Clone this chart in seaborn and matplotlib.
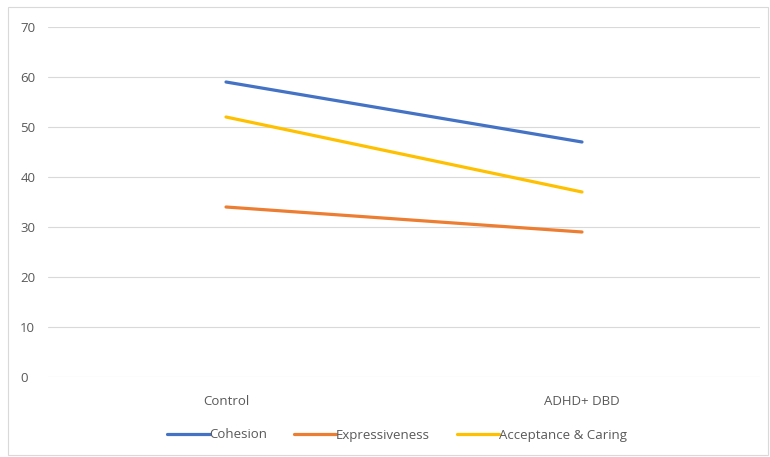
import matplotlib
matplotlib.use("Agg")
import matplotlib.pyplot as plt
import seaborn as sns
import pandas as pd

groups = ["Control", "ADHD+ DBD"]
cohesion = [59, 47]
expressiveness = [34, 29]
acceptance = [52, 37]
series_names = ["Cohesion", "Expressiveness", "Acceptance & Caring"]
colors = ["#4472C4", "#ED7D31", "#FFC000"]
yticks = [0, 10, 20, 30, 40, 50, 60, 70]

rows = []
for name, vals in zip(series_names, [cohesion, expressiveness, acceptance]):
    for i, (g, v) in enumerate(zip(groups, vals)):
        rows.append({"group": g, "pos": i, "value": v, "series": name})
df = pd.DataFrame(rows)

sns.set_style("white")
plt.rcParams['font.family'] = ['Open Sans', 'DejaVu Sans']

fig = plt.figure(figsize=(7.7, 4.57), dpi=100)
ax = fig.add_axes([48/770, 1-377/457, 712/770, 350/457])

sns.lineplot(data=df, x="pos", y="value", hue="series", hue_order=series_names,
             palette=colors, linewidth=2.3, ax=ax, legend=True)

ax.set_xlim(-0.5, 1.5)
ax.set_ylim(0, 70)
ax.set_yticks(yticks)
ax.set_xticks([0, 1])
ax.set_xticklabels(groups)
ax.grid(axis="y", color="#D9D9D9", linewidth=0.8)
ax.set_axisbelow(True)
for s in ax.spines.values():
    s.set_visible(False)
ax.tick_params(axis="both", length=0, labelsize=9.5, labelcolor="#595959")
ax.tick_params(axis="x", pad=13)
for lab in ax.get_yticklabels():
    lab.set_horizontalalignment("left")
ax.tick_params(axis="y", pad=20)
ax.set_xlabel("")
ax.set_ylabel("")

handles, labels = ax.get_legend_handles_labels()
ax.legend(handles, labels, loc="center", bbox_to_anchor=(397/770, 1-435/457),
          bbox_transform=fig.transFigure, ncol=3, frameon=False,
          fontsize=9.5, labelcolor="#595959", handlelength=3.2,
          handletextpad=0.0, columnspacing=2.0)

border = plt.Rectangle((8/770, 2/457), 760/770, 448/457, transform=fig.transFigure,
                       fill=False, edgecolor="#D9D9D9", linewidth=0.8)
fig.add_artist(border)

fig.savefig("out.png", dpi=100)
